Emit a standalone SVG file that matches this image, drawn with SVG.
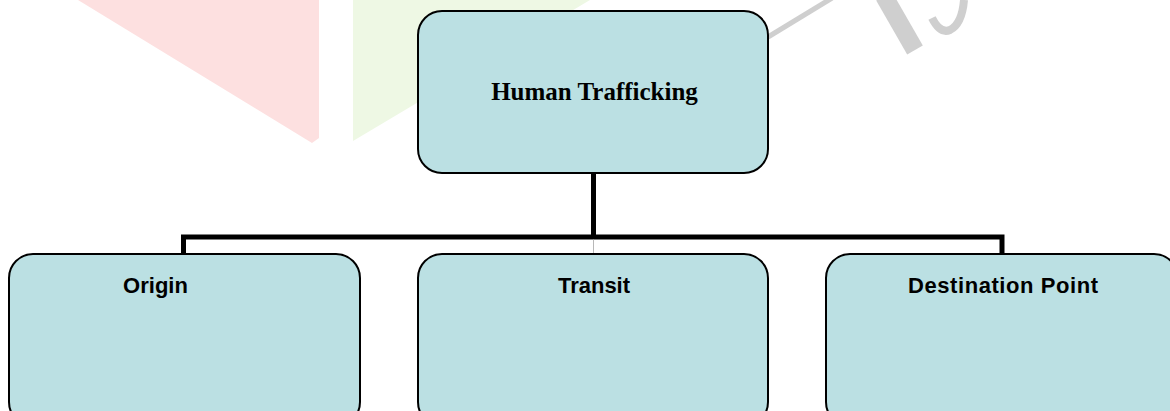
<svg xmlns="http://www.w3.org/2000/svg" width="1170" height="411" viewBox="0 0 1170 411">
  <style>
    .box { fill: #bbe0e3; stroke: #000; stroke-width: 2; }
    .wire { fill: none; stroke: #000; stroke-width: 5; stroke-linejoin: miter; }
    .title { font-family: "Liberation Serif", "Times New Roman", serif; font-weight: bold; font-size: 25px; fill: #000; }
    .label { font-family: "Liberation Sans", Arial, sans-serif; font-weight: bold; font-size: 22px; fill: #000; }
  </style>
  <rect width="1170" height="411" fill="#fff"/>

  <!-- faint background watermark -->
  <g id="watermark">
    <polygon points="78,0 319,0 319,138 312,143" fill="#fde0e0"/>
    <polygon points="353,0 590,0 353,141" fill="#eef8e4"/>
    <line x1="768" y1="37" x2="832" y2="-2" stroke="#cfcfcf" stroke-width="5"/>
    <line x1="884" y1="-4" x2="915" y2="50" stroke="#cfcfcf" stroke-width="18"/>
    <path d="M932,18 Q940,34 950,30 Q962,24 964,0" fill="none" stroke="#cfcfcf" stroke-width="8"/>
  </g>

  <!-- connectors -->
  <g id="connectors">
    <path class="wire" d="M593.5,173 V237"/>
    <path class="wire" d="M183.5,256 V237 H1002 V256"/>
    <line x1="593.5" y1="239" x2="593.5" y2="254" stroke="#999" stroke-width="0.7"/>
  </g>

  <g id="node-human-trafficking">
    <rect class="box" x="418" y="11" width="350" height="162" rx="24" ry="24"/>
    <text class="title" x="594.5" y="100" text-anchor="middle">Human Trafficking</text>
  </g>

  <g id="node-origin">
    <rect class="box" x="9" y="254" width="351" height="172" rx="24" ry="24"/>
    <text class="label" x="155.5" y="293" text-anchor="middle">Origin</text>
  </g>

  <g id="node-transit">
    <rect class="box" x="418" y="254" width="350" height="172" rx="24" ry="24"/>
    <text class="label" x="594" y="293" text-anchor="middle">Transit</text>
  </g>

  <g id="node-destination">
    <rect class="box" x="826" y="254" width="352" height="172" rx="24" ry="24"/>
    <text class="label" x="1003" y="293" text-anchor="middle" textLength="190" lengthAdjust="spacing">Destination Point</text>
  </g>
</svg>
